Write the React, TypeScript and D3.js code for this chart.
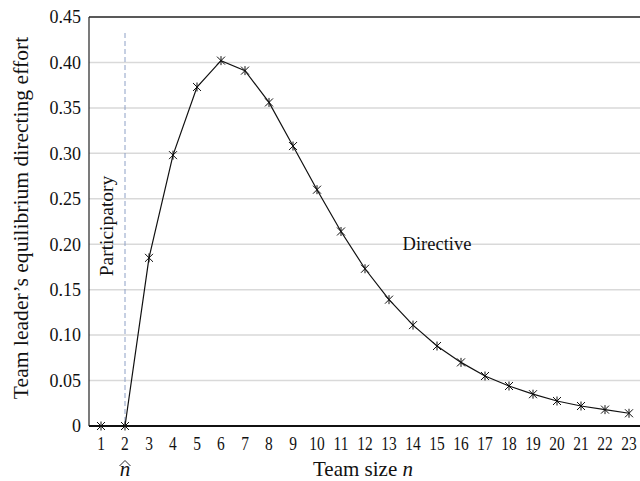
import React from "react";
import * as d3 from "d3";

const teamSizes: number[] = [1, 2, 3, 4, 5, 6, 7, 8, 9, 10, 11, 12, 13, 14, 15, 16, 17, 18, 19, 20, 21, 22, 23];
const effort: number[] = [0, 0, 0.185, 0.298, 0.373, 0.402, 0.391, 0.356, 0.308, 0.26, 0.214, 0.173, 0.139, 0.111, 0.088, 0.07, 0.055, 0.044, 0.035, 0.0275, 0.022, 0.018, 0.014];
const yTicks: number[] = [0, 0.05, 0.1, 0.15, 0.2, 0.25, 0.3, 0.35, 0.4, 0.45];
const nHat = 2;

const FONT = "'Liberation Serif', 'Times New Roman', serif";

export default function App() {
  const left = 89, right = 640, top = 17, bottom = 426;
  const y = d3.scaleLinear().domain([0, 0.45]).range([bottom, top]);
  const x = d3.scalePoint<number>().domain(teamSizes).range([101, 629]);
  const data = teamSizes.map((n, i) => ({ n, v: effort[i] }));
  const line = d3.line<{ n: number; v: number }>().x(d => x(d.n)!).y(d => y(d.v));
  const s = 4;
  const xh = x(nHat)!;

  return (
    <svg width={640} height={481} style={{ position: "absolute", left: 0, top: 0, background: "#fff" }} fontFamily={FONT}>
      <rect x={0} y={0} width={640} height={481} fill="#fff" />
      {yTicks.filter(t => t > 0 && t < 0.45).map(t => (
        <line key={t} x1={left} x2={right} y1={y(t)} y2={y(t)} stroke="#d9d9d9" strokeWidth={1.5} />
      ))}
      {yTicks.map(t => (
        <text key={"l" + t} x={81} y={y(t)} dy="0.35em" textAnchor="end" fontSize={18} fill="#111">
          {t === 0 ? "0" : d3.format(".2f")(t)}
        </text>
      ))}
      <line x1={left} x2={right} y1={top} y2={top} stroke="#222" strokeWidth={1.5} />
      <line x1={left} x2={left} y1={top} y2={bottom} stroke="#222" strokeWidth={1.2} />
      <line x1={xh} x2={xh} y1={33} y2={bottom} stroke="#8da0c6" strokeWidth={1} strokeDasharray="5,3" />
      <line x1={left} x2={right} y1={bottom} y2={bottom} stroke="#111" strokeWidth={2.2} />
      <path d={line(data)!} fill="none" stroke="#111" strokeWidth={1.2} />
      {data.map(d => {
        const cx = x(d.n)!, cy = y(d.v);
        return (
          <path key={d.n}
            d={`M${cx - s},${cy - s}L${cx + s},${cy + s}M${cx - s},${cy + s}L${cx + s},${cy - s}M${cx},${cy - s - 0.5}L${cx},${cy + s + 0.5}`}
            stroke="#111" strokeWidth={1} fill="none" />
        );
      })}
      {teamSizes.map(n => (
        <text key={"x" + n} x={x(n)!} y={450} textAnchor="middle" fontSize={18} fill="#111"
          transform={`translate(${x(n)!},0) scale(0.86,1) translate(${-x(n)!},0)`}>
          {n}
        </text>
      ))}
      <text x={437} y={250} textAnchor="middle" fontSize={18.5} fill="#111">Directive</text>
      <text transform={`translate(113,226) rotate(-90)`} textAnchor="middle" fontSize={19.5} fill="#111">Participatory</text>
      <text x={363} y={476} textAnchor="middle" fontSize={21} fill="#111">
        Team size <tspan fontStyle="italic">n</tspan>
      </text>
      <text x={xh} y={476} textAnchor="middle" fontSize={21} fontStyle="italic" fill="#111">n</text>
      <path d={`M${xh - 5.5},${466}L${xh},${460.5}L${xh + 5.5},${466}`} stroke="#111" strokeWidth={0.9} fill="none" />
      <text transform={`translate(28,218) rotate(-90)`} textAnchor="middle" fontSize={21.6} fill="#111">
        Team leader’s equilibrium directing effort
      </text>
    </svg>
  );
}
